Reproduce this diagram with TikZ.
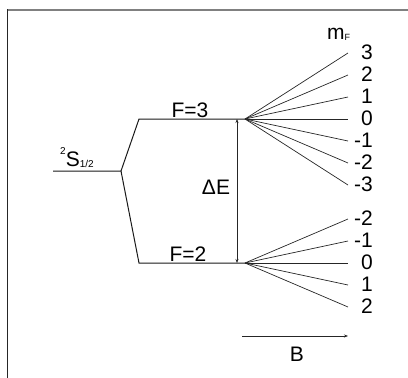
\documentclass[tikz,border=0pt]{standalone}
\usepackage{fontspec}
\setmainfont{Liberation Sans}
\usetikzlibrary{arrows.meta}
\begin{document}
\begin{tikzpicture}[x=1pt,y=-1pt,
  level/.style={draw=black!90,line width=1pt},
  fanline/.style={draw=black!85,line width=0.7pt},
  big/.style={font=\fontsize{21}{25}\selectfont,inner sep=0pt},
  mlabel/.style={big,anchor=east},
  thinarrow/.style={draw=black!85,line width=0.7pt}]
\useasboundingbox (0,0) rectangle (408,378);
% frame
\draw[draw=black!50,line width=2pt] (7,10) -- (408,10);
\draw[draw=black!85,line width=1pt] (7,9) -- (7,378);
% levels
\coordinate (s0) at (53,171);
\coordinate (s1) at (121,171);
\coordinate (f3a) at (139,119);
\coordinate (f3b) at (245,119);
\coordinate (f2a) at (139,263);
\coordinate (f2b) at (245,263);
\draw[level] (s0) -- (s1) -- (f3a) -- (f3b);
\draw[level] (s1) -- (f2a) -- (f2b);
% labels
\node[big,anchor=base west] (slab) at (60,166) {\raisebox{12pt}{\fontsize{10}{10}\selectfont 2}S\raisebox{-1pt}{\fontsize{10}{10}\selectfont 1/2}};
\node[big,anchor=base] (f3lab) at (190,117) {F=3};
\node[big,anchor=base] (f2lab) at (188,261) {F=2};
\node[big,anchor=base] (delab) at (216,194) {ΔE};
\node[big,anchor=base west] (mf) at (327,39) {m\raisebox{-1pt}{\fontsize{9}{9}\selectfont F}};
% Delta E arrow
\coordinate (dt) at (237,119);
\coordinate (db) at (237,263);
\draw[thinarrow,{Stealth[length=4pt,width=3pt]}-{Stealth[length=4pt,width=3pt]}] (dt) -- (db);
% upper fan
\foreach \n/\y/\t in {u3/53/3,u2/75/2,u1/97/1,u0/119/0,um1/141/-1,um2/163/-2,um3/185/-3}{
  \coordinate (\n) at (348,\y);
  \draw[fanline] (f3b) -- (\n);
  \node[mlabel] (l\n) at (373,\y-1) {\t};
}
% lower fan
\foreach \n/\y/\t in {dm2/219/-2,dm1/241/-1,d0/263/0,d1/285/1,d2/307/2}{
  \coordinate (\n) at (348,\y);
  \draw[fanline] (f2b) -- (\n);
  \node[mlabel] (l\n) at (373,\y-1) {\t};
}
% B arrow
\coordinate (ba) at (242,336);
\coordinate (bb) at (348,336);
\draw[thinarrow,-{Stealth[length=4pt,width=3pt]}] (ba) -- (bb);
\node[big,anchor=base] (blab) at (297,361) {B};
\end{tikzpicture}
\end{document}
